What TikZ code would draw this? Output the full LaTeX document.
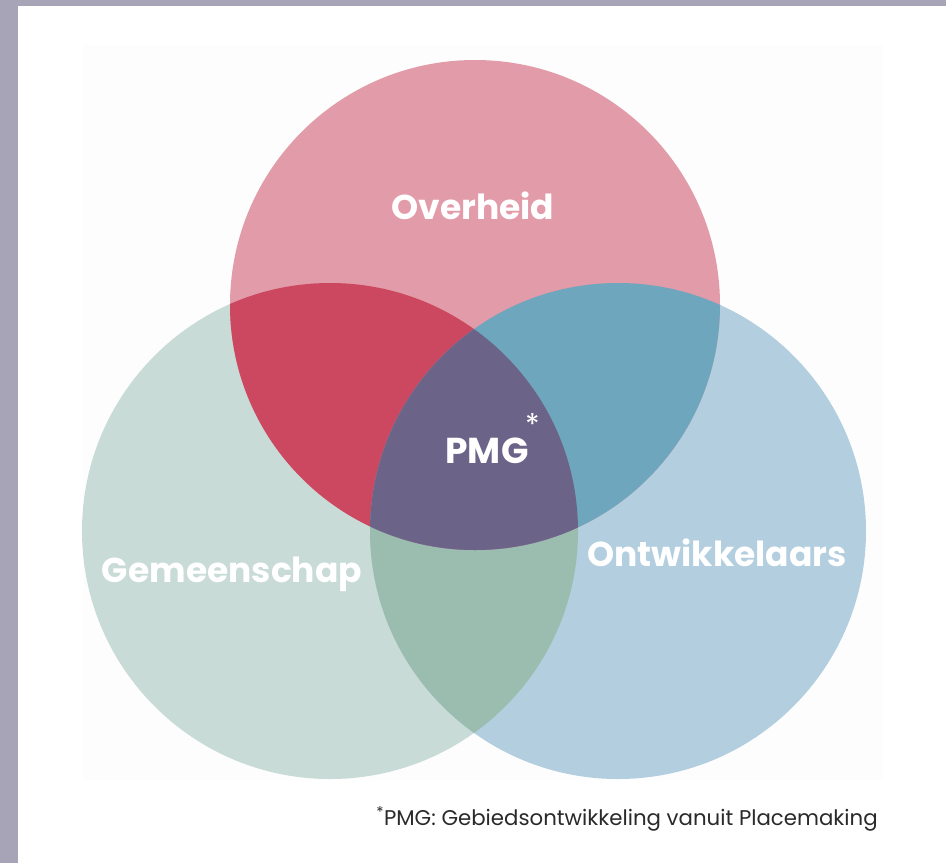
\documentclass[tikz,border=0pt]{standalone}
\usepackage{fontspec}
\setmainfont{Poppins}
\definecolor{framec}{HTML}{A8A4B8}
\definecolor{photoc}{HTML}{FDFDFD}
\definecolor{pinkc}{HTML}{E29BA8}
\definecolor{greenc}{HTML}{C8DBD6}
\definecolor{bluec}{HTML}{B2CEDF}
\definecolor{redc}{HTML}{CC4860}
\definecolor{tealc}{HTML}{6EA6BE}
\definecolor{purplec}{HTML}{6C6488}
\definecolor{lensc}{HTML}{9BBDAF}
\definecolor{notec}{HTML}{2A2A2A}
\tikzset{
  setlabel/.style={text=white, font=\fontsize{34.5}{40}\selectfont\bfseries, anchor=base, inner sep=0pt},
  notelabel/.style={text=notec, font=\fontsize{21.3}{25}\selectfont, anchor=base, inner sep=0pt}
}
\begin{document}
\begin{tikzpicture}[x=1pt,y=-1pt]
\useasboundingbox (0,0) rectangle (946,863);
\fill[framec] (0,0) rectangle (946,863);
\fill[white] (18,6) rectangle (946,863);
\fill[photoc] (83,45) rectangle (883,780);
\coordinate (cT) at (475,305);
\coordinate (cL) at (330,531);
\coordinate (cR) at (618,531);
\def\rT{245}
\def\rL{248}
\def\rR{248}
% lower circles
\fill[greenc] (cL) circle[radius=\rL];
\fill[bluec] (cR) circle[radius=\rR];
\begin{scope}
  \clip (cL) circle[radius=\rL];
  \fill[lensc] (cR) circle[radius=\rR];
\end{scope}
% top circle
\fill[pinkc] (cT) circle[radius=\rT];
\begin{scope}
  \clip (cT) circle[radius=\rT];
  \fill[redc] (cL) circle[radius=\rL];
  \fill[tealc] (cR) circle[radius=\rR];
  \clip (cL) circle[radius=\rL];
  \fill[purplec] (cR) circle[radius=\rR];
\end{scope}
% labels
\node[setlabel] (overheid) at (473,219) {Overheid};
\node[setlabel] (gemeenschap) at (232,582) {Gemeenschap};
\node[setlabel] (ontwikkelaars) at (717,566) {Ontwikkelaars};
\node[setlabel, font=\fontsize{36}{40}\selectfont\bfseries] (pmg) at (487,463) {PMG};
\node[text=white, font=\fontsize{30}{30}\selectfont, inner sep=0pt] (ast) at (533,424) {*};
\node[notelabel] (note) at (627,825) {\textsuperscript{*}PMG: Gebiedsontwikkeling vanuit Placemaking};
\end{tikzpicture}
\end{document}
